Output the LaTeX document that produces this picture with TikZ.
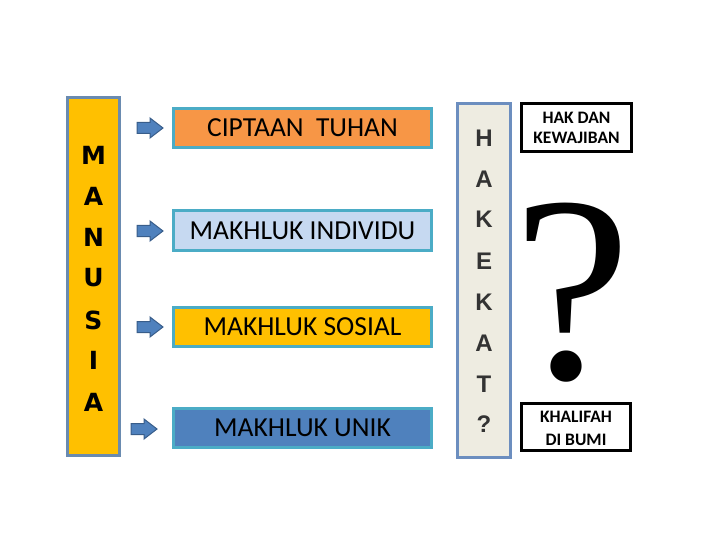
\documentclass[tikz,border=0pt]{standalone}
\usepackage{fontspec}
\setmainfont{Carlito}
\newfontfamily\heavyfont{DejaVu Sans}
\newfontfamily\arialfont{Liberation Sans}
\newfontfamily\timesfont{Liberation Serif}
\definecolor{gold}{HTML}{FFC000}
\definecolor{slateedge}{HTML}{6A8BB0}
\definecolor{tealedge}{HTML}{4BACC6}
\definecolor{orangefill}{HTML}{F79646}
\definecolor{lightbluefill}{HTML}{C6D9F1}
\definecolor{bluefill}{HTML}{4F81BD}
\definecolor{arrowedge}{HTML}{385D8A}
\definecolor{paper}{HTML}{EEECE1}
\definecolor{hakedge}{HTML}{6C8EBF}
\tikzset{
  pillar/.style={draw=slateedge, line width=3pt, inner sep=0pt},
  catbox/.style={draw=tealedge, line width=3pt, minimum width=258pt, minimum height=39pt, inner sep=0pt, font=\fontsize{27.5}{27.5}\selectfont},
  blockarrow/.style={draw=arrowedge, fill=bluefill, line width=1pt, line join=miter},
  vletter/.style={font=\heavyfont\bfseries\fontsize{25}{25}\selectfont, text=black},
  hletter/.style={font=\arialfont\bfseries\fontsize{24}{24}\selectfont, text=black!80},
  answerbox/.style={draw=black, line width=3pt, fill=white, inner sep=0pt, align=center, font=\bfseries\fontsize{17.5}{20}\selectfont}
}
\newcommand{\blockarrowat}[1]{%
  \draw[blockarrow, shift={(#1)}] (-13,-5.5) -- (0,-5.5) -- (0,-10) -- (13,0) -- (0,10) -- (0,5.5) -- (-13,5.5) -- cycle;}
\begin{document}
\begin{tikzpicture}[x=1pt,y=-1pt]
\useasboundingbox (0,0) rectangle (720,540);
% MANUSIA pillar
\node[pillar, fill=gold, minimum width=52pt, minimum height=358pt] (manusia) at (93.5,276.5) {};
\node[vletter] (m1) at (93.5,155) {M};
\node[vletter] (m2) at (93.5,196) {A};
\node[vletter] (m3) at (93.5,237) {N};
\node[vletter] (m4) at (93.5,278) {U};
\node[vletter] (m5) at (93.5,320) {S};
\node[vletter] (m6) at (93.5,360) {I};
\node[vletter] (m7) at (93.5,402) {A};
% arrows
\coordinate (ar1) at (150,128);
\coordinate (ar2) at (150,231);
\coordinate (ar3) at (150,327);
\coordinate (ar4) at (144,429);
\blockarrowat{ar1}
\blockarrowat{ar2}
\blockarrowat{ar3}
\blockarrowat{ar4}
% category boxes
\node[catbox, fill=orangefill] (tuhan) at (302.5,128) {CIPTAAN\hspace{0.45em}TUHAN};
\node[catbox, fill=lightbluefill] (individu) at (302.5,230.5) {MAKHLUK INDIVIDU};
\node[catbox, fill=gold] (sosial) at (302.5,326.5) {MAKHLUK SOSIAL};
\node[catbox, fill=bluefill] (unik) at (302.5,428) {MAKHLUK UNIK};
% HAKEKAT pillar
\node[pillar, draw=hakedge, fill=paper, minimum width=53pt, minimum height=354pt] (hakekat) at (484,280.5) {};
\node[hletter] (h1) at (484,138) {H};
\node[hletter] (h2) at (484,179) {A};
\node[hletter] (h3) at (484,219) {K};
\node[hletter] (h4) at (484,261) {E};
\node[hletter] (h5) at (484,302) {K};
\node[hletter] (h6) at (484,343) {A};
\node[hletter] (h7) at (484,384) {T};
\node[hletter] (h8) at (484,424) {?};
% answer boxes
\node[answerbox, minimum width=110pt, minimum height=48pt] (hak) at (576.5,127.5) {HAK DAN\\KEWAJIBAN};
\node[draw=black, line width=3pt, fill=white, inner sep=0pt, minimum width=109pt, minimum height=47pt] (khalifah) at (576,427) {};
\node[font=\bfseries\fontsize{17.5}{17.5}\selectfont, inner sep=0pt] (khal1) at (576,417) {KHALIFAH};
\node[font=\bfseries\fontsize{17.5}{17.5}\selectfont, inner sep=0pt] (khal2) at (576,440) {DI BUMI};
% big question mark
\node[anchor=base, inner sep=0pt, font=\timesfont\fontsize{265}{265}\selectfont] (qmark) at (572,378) {?};
\end{tikzpicture}
\end{document}
